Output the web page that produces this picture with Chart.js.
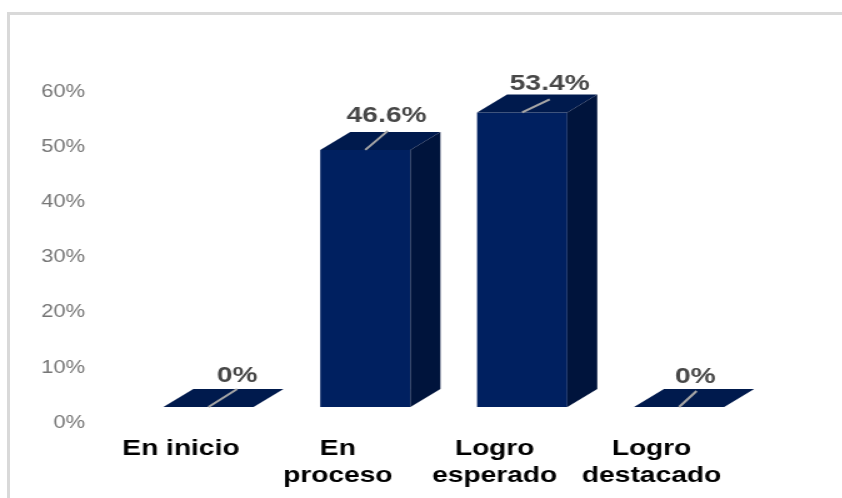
<!DOCTYPE html>
<html>
<head>
<meta charset="utf-8">
<script src="https://cdn.jsdelivr.net/npm/chart.js@4"></script>
<style>
  html, body { margin: 0; padding: 0; background: #fff; overflow: hidden; }
  #wrap { position: relative; width: 842px; height: 498px; overflow: hidden; }
  #frame { position: absolute; left: 7px; top: 12px; right: -5px; bottom: -5px;
           border-left: 3px solid #d9d9d9; border-top: 3px solid #d9d9d9; }
  /* the original picture is stretched sideways, so the whole canvas is too */
  #chart { position: absolute; left: 0; top: 0; transform: scaleX(1.25); transform-origin: 0 0; }
</style>
</head>
<body>
<div id="wrap">
  <div id="frame"></div>
  <canvas id="chart" width="674" height="498"></canvas>
</div>
<script>
const categories = ['En inicio', ['En', 'proceso'], ['Logro', 'esperado'], ['Logro', 'destacado']];
const values = [0, 46.6, 53.4, 0];

// where each value label sits, relative to the top of its bar (canvas px)
const labelDx = [23, 17, 22, 13];
const labelDy = [-31, -34, -29, -30];
// end of each grey leader line
const leaderDx = [23, 18, 22, 14];
const leaderDy = [-18, -19, -13, -16];

const stretch = 1.25;
const depthX = 30 / stretch;
const depthY = 18;

function poly(ctx, pts, color) {
  ctx.beginPath();
  pts.forEach((p, i) => i ? ctx.lineTo(p[0], p[1]) : ctx.moveTo(p[0], p[1]));
  ctx.closePath();
  ctx.fillStyle = color;
  ctx.fill();
}

// Draws the sides of the bars, leader lines and value labels
const box3d = {
  id: 'box3d',
  afterDatasetsDraw(chart) {
    const ctx = chart.ctx;
    chart.getDatasetMeta(0).data.forEach((bar, i) => {
      const p = bar.getProps(['x', 'y', 'base', 'width']);
      const l = p.x - p.width / 2;
      const r = p.x + p.width / 2;
      poly(ctx, [[l, p.y], [r, p.y], [r + depthX, p.y - depthY], [l + depthX, p.y - depthY]], '#001a4d');
      poly(ctx, [[r, p.y], [r, p.base], [r + depthX, p.base - depthY], [r + depthX, p.y - depthY]], '#00143c');

      ctx.beginPath();
      ctx.moveTo(p.x, p.y);
      ctx.lineTo(p.x + leaderDx[i], p.y + leaderDy[i]);
      ctx.strokeStyle = '#a6a6a6';
      ctx.lineWidth = 2;
      ctx.stroke();

      ctx.font = 'bold 22.5px "Liberation Sans"';
      ctx.fillStyle = '#474747';
      ctx.textAlign = 'center';
      ctx.textBaseline = 'middle';
      ctx.fillText(values[i] + '%', p.x + labelDx[i], p.y + labelDy[i]);
    });
  }
};

document.addEventListener('DOMContentLoaded', () => {
  new Chart(document.getElementById('chart'), {
    type: 'bar',
    plugins: [box3d],
    data: {
      labels: categories,
      datasets: [{
        data: values,
        backgroundColor: '#002060',
        categoryPercentage: 0.575,
        barPercentage: 1
      }]
    },
    options: {
      responsive: false,
      animation: false,
      layout: { padding: { top: 76, right: 68, left: 0, bottom: 0 } },
      plugins: { legend: { display: false }, tooltip: { enabled: false } },
      scales: {
        x: {
          grid: { display: false },
          border: { display: false },
          afterFit: s => { s.height = 91; },
          ticks: {
            autoSkip: false,
            maxRotation: 0,
            padding: 20,
            labelOffset: -22,
            color: '#000',
            font: { family: '"Liberation Sans"', size: 22.5, weight: 'bold', lineHeight: 1.2 }
          }
        },
        y: {
          min: 0,
          max: 60,
          grid: { display: false },
          border: { display: false },
          afterFit: s => { s.width = 104; },
          ticks: {
            stepSize: 10,
            padding: 28,
            labelOffset: 16,
            color: '#767676',
            font: { family: '"Liberation Sans"', size: 17.5 },
            callback: v => v + '%'
          }
        }
      }
    }
  });
});
</script>
</body>
</html>
